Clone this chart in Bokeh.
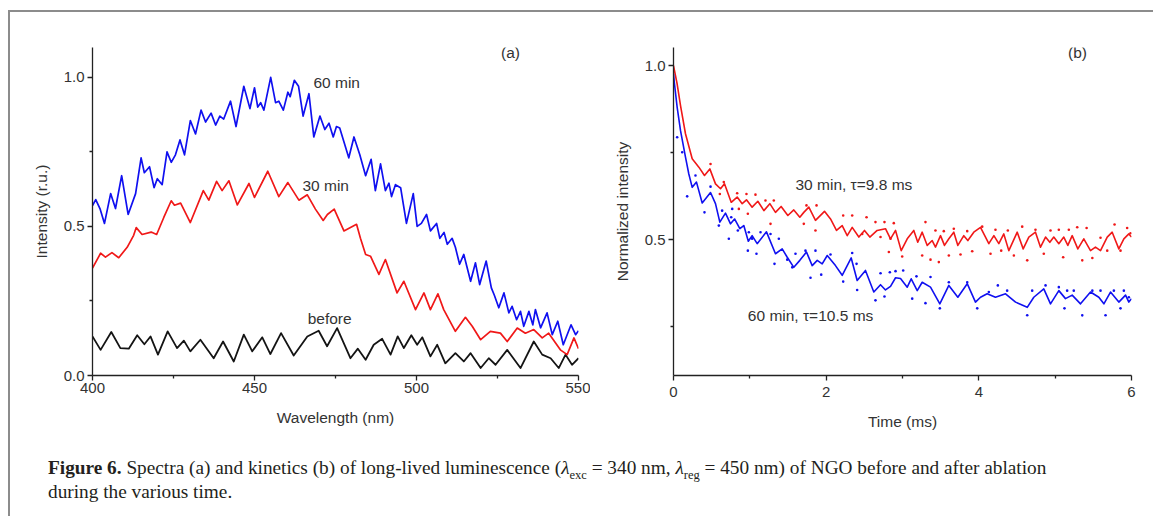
from bokeh.plotting import figure
from bokeh.models import FixedTicker, Label, Div, PrintfTickFormatter
from bokeh.layouts import column, row
from bokeh.embed import file_html
from bokeh.resources import INLINE

# ---------------- Panel (a): spectra ----------------
wl_60 = [400.0, 401.0, 402.3, 403.7, 405.6, 407.1, 409.0, 411.0, 413.3, 415.0, 416.0, 417.6, 419.0, 420.0,
         421.5, 423.0, 424.3, 425.6, 427.0, 428.4, 430.2, 431.8, 433.5, 434.9, 436.6, 438.0, 439.3, 440.5,
         442.6, 444.3, 446.7, 448.6, 450.0, 451.0, 451.9, 452.9, 455.0, 456.5, 457.5, 458.9, 460.3, 461.0,
         462.3, 463.6, 465.0, 466.8, 468.3, 470.2, 471.7, 473.0, 474.3, 475.3, 476.3, 479.1, 480.7, 482.5,
         484.3, 486.0, 487.3, 488.9, 490.4, 491.5, 492.3, 493.5, 495.1, 496.9, 499.0, 500.2, 501.5, 503.1,
         504.3, 506.2, 507.2, 508.5, 509.5, 511.0, 512.0, 513.3, 514.6, 516.7, 518.2, 519.5, 521.5, 523.1,
         524.0, 525.4, 527.0, 528.5, 529.5, 530.9, 532.1, 533.1, 534.7, 535.9, 536.7, 538.3, 540.3, 541.9,
         543.6, 545.3, 547.7, 549.1, 550.0]
int_60 = [0.57, 0.59, 0.56, 0.51, 0.61, 0.56, 0.67, 0.54, 0.61, 0.73, 0.68, 0.70, 0.63, 0.66,
          0.64, 0.75, 0.715, 0.74, 0.79, 0.74, 0.855, 0.81, 0.89, 0.85, 0.88, 0.84, 0.87, 0.86,
          0.92, 0.835, 0.97, 0.895, 0.965, 0.90, 0.915, 0.89, 1.0, 0.915, 0.92, 0.89, 0.95, 0.935,
          0.99, 0.97, 0.87, 0.945, 0.80, 0.87, 0.825, 0.846, 0.80, 0.835, 0.83, 0.73, 0.80, 0.74,
          0.67, 0.725, 0.62, 0.71, 0.62, 0.645, 0.60, 0.64, 0.63, 0.51, 0.61, 0.50, 0.51, 0.54,
          0.485, 0.51, 0.46, 0.48, 0.44, 0.46, 0.43, 0.373, 0.406, 0.316, 0.378, 0.305, 0.384, 0.294,
          0.27, 0.227, 0.277, 0.21, 0.232, 0.187, 0.215, 0.165, 0.215, 0.17, 0.221, 0.16, 0.21, 0.137,
          0.182, 0.103, 0.17, 0.137, 0.15]

wl_30 = [400.0, 402.5, 404.0, 406.0, 408.1, 410.7, 412.7, 413.5, 415.3, 418.1, 419.8, 422.0, 424.3, 425.3,
         427.2, 430.2, 434.2, 435.9, 438.3, 440.0, 442.1, 444.7, 448.3, 450.0, 454.1, 457.5, 460.3, 463.7,
         466.3, 468.8, 471.2, 472.5, 474.6, 477.6, 481.5, 482.7, 484.3, 485.8, 488.4, 490.4, 494.0, 496.1,
         499.7, 502.3, 504.3, 506.6, 508.4, 512.0, 515.1, 517.2, 519.8, 522.8, 525.9, 528.0, 531.1, 533.6,
         536.2, 538.8, 540.8, 544.4, 546.5, 548.6, 550.0]
int_30 = [0.36, 0.41, 0.397, 0.412, 0.395, 0.43, 0.47, 0.496, 0.473, 0.481, 0.473, 0.53, 0.586, 0.571,
          0.578, 0.513, 0.62, 0.588, 0.651, 0.62, 0.653, 0.572, 0.644, 0.597, 0.685, 0.60, 0.647, 0.588,
          0.606, 0.558, 0.52, 0.54, 0.558, 0.485, 0.507, 0.46, 0.406, 0.40, 0.339, 0.389, 0.277, 0.316,
          0.221, 0.277, 0.221, 0.274, 0.221, 0.148, 0.195, 0.165, 0.12, 0.148, 0.142, 0.114, 0.159, 0.142,
          0.154, 0.126, 0.142, 0.086, 0.07, 0.126, 0.09]

wl_before = [400.0, 402.5, 405.8, 408.6, 411.2, 413.8, 416.0, 417.9, 420.2, 423.2, 426.1, 428.2, 430.2, 433.3,
             437.4, 440.3, 443.6, 446.7, 449.3, 452.4, 454.9, 458.2, 462.1, 466.3, 469.8, 472.4, 475.5, 479.6,
             481.9, 484.3, 486.8, 489.4, 492.0, 494.2, 496.1, 498.4, 500.2, 501.8, 504.3, 506.4, 508.9, 512.0,
             514.6, 516.7, 519.8, 522.3, 524.4, 528.0, 532.1, 536.2, 538.8, 541.4, 543.9, 546.0, 548.0, 550.0]
int_before = [0.131, 0.086, 0.146, 0.092, 0.09, 0.135, 0.105, 0.131, 0.07, 0.148, 0.092, 0.117, 0.081, 0.12,
              0.058, 0.114, 0.047, 0.137, 0.081, 0.128, 0.072, 0.142, 0.067, 0.131, 0.15, 0.098, 0.159, 0.058,
              0.09, 0.053, 0.103, 0.123, 0.07, 0.131, 0.092, 0.135, 0.103, 0.128, 0.064, 0.103, 0.041, 0.075,
              0.047, 0.075, 0.025, 0.058, 0.036, 0.086, 0.025, 0.114, 0.07, 0.058, 0.025, 0.07, 0.036, 0.058]

a_xticks = [400, 450, 500, 550]
a_xminor = [425, 475, 525]
a_yticks = [0.0, 0.5, 1.0]
a_yminor = [0.25, 0.75]

# ---------------- Panel (b): kinetics ----------------
t_30_fit = [0.0, 0.048, 0.092, 0.157, 0.245, 0.332, 0.406, 0.476, 0.55, 0.616, 0.668, 0.756, 0.834, 0.9,
            0.956, 1.03, 1.105, 1.184, 1.262, 1.336, 1.41, 1.498, 1.576, 1.655, 1.707, 1.773, 1.86, 1.978,
            2.057, 2.135, 2.21, 2.276, 2.341, 2.428, 2.502, 2.572, 2.668, 2.777, 2.843, 2.909, 2.983, 3.062,
            3.148, 3.2, 3.258, 3.324, 3.389, 3.432, 3.498, 3.55, 3.607, 3.672, 3.725, 3.803, 3.856, 3.934,
            4.022, 4.131, 4.197, 4.262, 4.327, 4.393, 4.503, 4.581, 4.655, 4.742, 4.808, 4.874, 4.93, 4.982,
            5.048, 5.113, 5.166, 5.223, 5.297, 5.375, 5.463, 5.528, 5.594, 5.682, 5.747, 5.834, 5.9, 5.965, 6.0]
v_30_fit = [1.0, 0.947, 0.885, 0.804, 0.732, 0.708, 0.684, 0.703, 0.66, 0.646, 0.66, 0.607, 0.622, 0.603,
            0.614, 0.593, 0.61, 0.583, 0.603, 0.578, 0.595, 0.569, 0.585, 0.564, 0.578, 0.593, 0.555, 0.581,
            0.559, 0.526, 0.54, 0.511, 0.535, 0.507, 0.526, 0.507, 0.526, 0.531, 0.502, 0.526, 0.468, 0.502,
            0.526, 0.492, 0.521, 0.483, 0.497, 0.478, 0.511, 0.483, 0.502, 0.521, 0.483, 0.511, 0.497, 0.521,
            0.535, 0.488, 0.511, 0.488, 0.516, 0.468, 0.521, 0.473, 0.507, 0.521, 0.478, 0.507, 0.492, 0.507,
            0.488, 0.507, 0.483, 0.511, 0.473, 0.502, 0.468, 0.478, 0.468, 0.507, 0.521, 0.473, 0.502, 0.516, 0.507]

t_30_pts = [0.485, 0.607, 0.659, 0.834, 0.856, 0.956, 0.974, 1.074, 1.205, 1.271, 1.314, 1.707, 1.742, 1.86,
            1.874, 2.223, 2.341, 2.472, 2.529, 2.646, 2.712, 2.764, 2.821, 2.843, 2.886, 2.996, 3.258, 3.301,
            3.367, 3.432, 3.476, 3.541, 3.607, 3.672, 3.76, 3.848, 3.913, 4.044, 4.153, 4.218, 4.293, 4.38,
            4.459, 4.568, 4.634, 4.742, 4.851, 4.939, 5.048, 5.105, 5.179, 5.289, 5.355, 5.412, 5.487, 5.594,
            5.682, 5.778, 5.856, 5.943, 5.987]
v_30_pts = [0.717, 0.631, 0.665, 0.633, 0.588, 0.631, 0.574, 0.629, 0.612, 0.545, 0.612, 0.545, 0.598, 0.526,
            0.598, 0.569, 0.569, 0.516, 0.564, 0.55, 0.507, 0.55, 0.464, 0.502, 0.547, 0.451, 0.454, 0.55,
            0.442, 0.526, 0.435, 0.524, 0.454, 0.531, 0.457, 0.524, 0.466, 0.537, 0.459, 0.528, 0.468, 0.526,
            0.454, 0.537, 0.44, 0.528, 0.459, 0.526, 0.528, 0.449, 0.528, 0.535, 0.44, 0.533, 0.447, 0.505,
            0.468, 0.543, 0.468, 0.533, 0.518]

t_60_fit = [0.0, 0.013, 0.048, 0.092, 0.157, 0.2, 0.245, 0.301, 0.376, 0.485, 0.55, 0.607, 0.681, 0.747,
            0.8, 0.869, 0.921, 0.98, 1.03, 1.096, 1.218, 1.336, 1.424, 1.49, 1.576, 1.655, 1.742, 1.817,
            1.883, 1.948, 2.014, 2.122, 2.21, 2.328, 2.406, 2.515, 2.624, 2.712, 2.777, 2.843, 2.909, 2.974,
            3.062, 3.114, 3.193, 3.258, 3.367, 3.489, 3.607, 3.725, 3.848, 3.956, 4.022, 4.109, 4.218, 4.35,
            4.481, 4.634, 4.72, 4.851, 4.939, 5.048, 5.135, 5.223, 5.332, 5.463, 5.572, 5.638, 5.725, 5.834,
            5.922, 5.965, 6.0]
v_60_fit = [0.976, 0.947, 0.88, 0.813, 0.737, 0.689, 0.65, 0.665, 0.605, 0.635, 0.603, 0.55, 0.576, 0.545,
            0.559, 0.531, 0.54, 0.495, 0.511, 0.488, 0.522, 0.459, 0.473, 0.449, 0.42, 0.44, 0.464, 0.425,
            0.44, 0.43, 0.454, 0.425, 0.397, 0.447, 0.382, 0.411, 0.349, 0.37, 0.355, 0.365, 0.39, 0.388,
            0.363, 0.387, 0.353, 0.377, 0.363, 0.315, 0.368, 0.334, 0.373, 0.32, 0.334, 0.344, 0.334, 0.344,
            0.32, 0.305, 0.334, 0.358, 0.315, 0.353, 0.33, 0.34, 0.315, 0.349, 0.334, 0.315, 0.349, 0.32,
            0.34, 0.32, 0.33]

t_60_pts = [0.048, 0.114, 0.179, 0.288, 0.406, 0.485, 0.594, 0.637, 0.725, 0.756, 0.769, 0.843, 0.974, 0.987,
            1.03, 1.087, 1.14, 1.271, 1.323, 1.38, 1.49, 1.555, 1.598, 1.729, 1.795, 1.86, 1.935, 2.057,
            2.223, 2.341, 2.398, 2.406, 2.646, 2.712, 2.764, 2.834, 2.909, 3.009, 3.127, 3.183, 3.301, 3.367,
            3.489, 3.607, 3.848, 3.979, 4.131, 4.249, 4.371, 4.634, 4.699, 4.874, 5.048, 5.122, 5.157, 5.244,
            5.355, 5.487, 5.594, 5.66, 5.769, 5.856, 5.9, 5.965]
v_60_pts = [0.794, 0.751, 0.624, 0.684, 0.578, 0.652, 0.54, 0.583, 0.502, 0.564, 0.588, 0.526, 0.468, 0.521,
            0.502, 0.459, 0.521, 0.516, 0.43, 0.502, 0.442, 0.42, 0.459, 0.468, 0.39, 0.468, 0.399, 0.457,
            0.379, 0.461, 0.43, 0.355, 0.325, 0.403, 0.336, 0.406, 0.409, 0.411, 0.33, 0.394, 0.317, 0.392,
            0.302, 0.377, 0.377, 0.302, 0.349, 0.368, 0.353, 0.282, 0.353, 0.368, 0.363, 0.302, 0.353, 0.353,
            0.282, 0.353, 0.353, 0.282, 0.353, 0.302, 0.353, 0.334]

b_xticks = [0, 2, 4, 6]
b_xminor = [1, 3, 5]
b_yticks = [0.5, 1.0]
b_yminor = [0.25, 0.75]

FONT = "Liberation Sans"
TXT = "#333333"
BLUE = "#1010f0"
RED = "#f01818"
BLACK = "#141414"


def style(p, xt, xm, yt, ym, xlabel, ylabel, xstand, xlstand):
    p.xaxis.ticker = FixedTicker(ticks=xt, minor_ticks=xm)
    p.yaxis.ticker = FixedTicker(ticks=yt, minor_ticks=ym)
    p.yaxis.formatter = PrintfTickFormatter(format="%.1f")
    p.xgrid.visible = False
    p.ygrid.visible = False
    p.outline_line_color = None
    p.xaxis.axis_label = xlabel
    p.yaxis.axis_label = ylabel
    for ax in (p.xaxis[0], p.yaxis[0]):
        ax.axis_line_color = "#222222"
        ax.axis_line_width = 1.3
        ax.major_tick_line_color = "#222222"
        ax.minor_tick_line_color = "#222222"
        ax.major_tick_line_width = 1.3
        ax.minor_tick_line_width = 1.3
        ax.major_tick_out = 5
        ax.major_tick_in = 0
        ax.minor_tick_out = 3
        ax.minor_tick_in = 0
        ax.major_label_text_font = FONT
        ax.major_label_text_font_size = "15px"
        ax.major_label_text_color = TXT
        ax.axis_label_text_font = FONT
        ax.axis_label_text_font_size = "15.5px"
        ax.axis_label_text_font_style = "normal"
        ax.axis_label_text_color = TXT
    p.xaxis.major_label_standoff = xstand
    p.xaxis.axis_label_standoff = xlstand
    p.yaxis.major_label_standoff = 3
    p.yaxis.axis_label_standoff = 11


def lab(p, x, y, text, align="left", baseline="middle"):
    p.add_layout(Label(x=x, y=y, text=text, text_font=FONT, text_font_size="15.5px",
                       text_color=TXT, text_align=align, text_baseline=baseline))


pa = figure(width=580, height=422, x_range=(400, 550), y_range=(0, 1.1),
            output_backend="svg", toolbar_location=None,
            min_border_left=82, min_border_right=12, min_border_top=35, min_border_bottom=59)
style(pa, a_xticks, a_xminor, a_yticks, a_yminor, "Wavelength (nm)", "Intensity (r.u.)", 2, 13)
pa.line(wl_before, int_before, line_color=BLACK, line_width=1.8, line_join="round")
pa.line(wl_30, int_30, line_color=RED, line_width=1.7, line_join="round")
pa.line(wl_60, int_60, line_color=BLUE, line_width=1.7, line_join="round")
lab(pa, 468.2, 0.983, "60 min")
lab(pa, 464.8, 0.636, "30 min")
lab(pa, 466.4, 0.19, "before")
lab(pa, 529.0, 1.082, "(a)", align="center")

pb = figure(width=555, height=422, x_range=(0, 6), y_range=(0.109, 1.052),
            output_backend="svg", toolbar_location=None,
            min_border_left=83, min_border_right=14, min_border_top=35, min_border_bottom=59)
style(pb, b_xticks, b_xminor, b_yticks, b_yminor, "Time (ms)", "Normalized intensity", 6, 13)
pb.scatter(t_30_pts, v_30_pts, size=2.6, color=RED, line_color=None)
pb.scatter(t_60_pts, v_60_pts, size=2.6, color=BLUE, line_color=None)
pb.line(t_30_fit, v_30_fit, line_color=RED, line_width=1.6, line_join="round")
pb.line(t_60_fit, v_60_fit, line_color=BLUE, line_width=1.6, line_join="round")
lab(pb, 1.598, 0.658, "30 min, \u03c4=9.8 ms")
lab(pb, 0.974, 0.282, "60 min, \u03c4=10.5 ms")
lab(pb, 5.293, 1.037, "(b)", align="center")

SUB = '<span style="font-size:12.5px;position:relative;top:5px;">'
caption_html = (
    '<div style="font-family:\'Liberation Serif\',serif;font-size:19.3px;color:#231f20;'
    'line-height:22px;padding-left:33px;padding-top:18px;white-space:nowrap;">'
    '<b>Figure 6.</b> Spectra (a) and kinetics (b) of long-lived luminescence '
    '(<i>\u03bb</i>' + SUB + 'exc</span>&nbsp;=&nbsp;340 nm, '
    '<i>\u03bb</i>' + SUB + 'reg</span>&nbsp;=&nbsp;450 nm) of NGO before and after ablation<br>'
    'during the various time.</div>'
)
caption = Div(text=caption_html, width=1135, height=72)

layout = column(row(pa, pb), caption,
                styles={"border-top": "2px solid #8c8c8c", "border-left": "2px solid #8c8c8c",
                        "margin-top": "10px", "margin-left": "8px"})

open("out.html", "w").write(file_html(layout, INLINE))
